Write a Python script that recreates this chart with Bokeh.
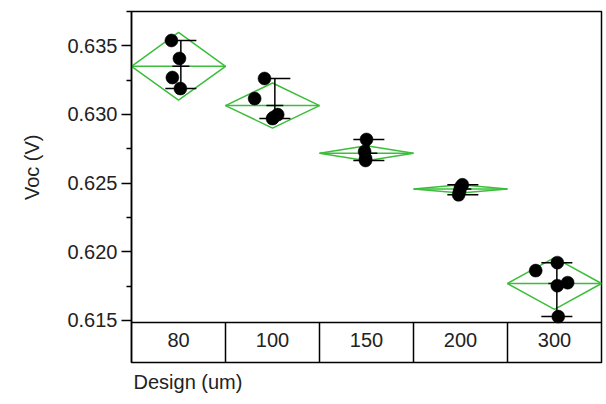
from bokeh.plotting import figure
from bokeh.models import Range1d, FixedTicker, NumeralTickFormatter, Title, Span
from bokeh.core.properties import value
from bokeh.embed import file_html
from bokeh.resources import INLINE

# ---- data ----
categories = ["80", "100", "150", "200", "300"]

voc_80 = [0.63539, 0.63408, 0.63269, 0.63189]
voc_100 = [0.63262, 0.63116, 0.62970, 0.62978, 0.62999]
voc_150 = [0.62818, 0.62730, 0.62680, 0.62665]
voc_200 = [0.62488, 0.62470, 0.62440, 0.62415]
voc_300 = [0.61863, 0.61921, 0.61775, 0.61753, 0.61528]

# horizontal jitter of the points, in category units
jit_80 = [-0.075, 0.01, -0.065, 0.02]
jit_100 = [-0.085, -0.19, 0.0, 0.01, 0.055]
jit_150 = [0.0, -0.02, -0.01, -0.01]
jit_200 = [0.02, 0.0, -0.01, -0.02]
jit_300 = [-0.20, 0.03, 0.14, 0.03, 0.04]

group_means = [0.63351, 0.63065, 0.62718, 0.62458, 0.61769]
ci_half = [0.00247, 0.00164, 0.00055, 0.00030, 0.00189]
err_lo = [0.63189, 0.62970, 0.62665, 0.62415, 0.61528]
err_hi = [0.63539, 0.63262, 0.62818, 0.62488, 0.61921]

y_major = [0.615, 0.620, 0.625, 0.630, 0.635]
y_minor = [0.6175, 0.6225, 0.6275, 0.6325, 0.6375]

# ---- layout / styles ----
FONT = "Liberation Sans"
FS = "20px"
TXT = "#222222"
GREEN = "#3cbe3c"

Y_TOP = 0.6375
Y_PLOT_BOTTOM = 0.61485
PLOT_PX = 311.0
STRIP_PX = 40.0
Y_STRIP_BOTTOM = Y_PLOT_BOTTOM - (Y_TOP - Y_PLOT_BOTTOM) * STRIP_PX / PLOT_PX

voc_all = [voc_80, voc_100, voc_150, voc_200, voc_300]
jit_all = [jit_80, jit_100, jit_150, jit_200, jit_300]
n = len(categories)
idx = list(range(n))

p = figure(width=606, height=404, x_range=Range1d(0, n),
           y_range=Range1d(Y_STRIP_BOTTOM, Y_TOP), output_backend="svg",
           toolbar_location=None, x_axis_location=None,
           min_border_left=131, min_border_right=5, min_border_top=11,
           min_border_bottom=42)
p.grid.visible = False
p.outline_line_color = "black"
p.outline_line_width = 1.5
p.background_fill_color = "white"
p.border_fill_color = "white"

ax = p.yaxis[0]
ax.ticker = FixedTicker(ticks=y_major, minor_ticks=y_minor)
ax.formatter = NumeralTickFormatter(format="0.000")
ax.major_tick_out = 10
ax.major_tick_in = 0
ax.minor_tick_out = 5
ax.minor_tick_in = 0
ax.axis_line_color = "black"
ax.axis_line_width = 1.5
ax.major_tick_line_width = 1.5
ax.minor_tick_line_width = 1.5
ax.major_label_text_font = FONT
ax.major_label_text_font_size = FS
ax.major_label_text_color = TXT
ax.major_label_standoff = 4

# y axis title, placed over the plot region (not the category strip)
p.add_layout(Title(text="Voc (V)", align="right", vertical_align="top",
                   offset=123, standoff=40,
                   text_font=FONT, text_font_size=FS, text_font_style="normal",
                   text_color=TXT), "left")

# diamonds
xs, ys = [], []
for i, (m, h) in enumerate(zip(group_means, ci_half)):
    xs.append([i, i + 0.5, i + 1, i + 0.5])
    ys.append([m, m + h, m, m - h])
p.patches(xs, ys, fill_color=None, line_color=GREEN, line_width=1.5)
p.segment(x0=idx, x1=[i + 1 for i in idx], y0=group_means, y1=group_means,
          line_color=GREEN, line_width=1.5)

# error bars
ex = [i + 0.5 + 0.025 for i in idx]
p.segment(x0=ex, x1=ex, y0=err_lo, y1=err_hi, line_color="black", line_width=1.5)
p.segment(x0=[x - 0.165 for x in ex], x1=[x + 0.165 for x in ex], y0=err_lo, y1=err_lo,
          line_color="black", line_width=1.5)
p.segment(x0=[x - 0.165 for x in ex], x1=[x + 0.165 for x in ex], y0=err_hi, y1=err_hi,
          line_color="black", line_width=1.5)
p.segment(x0=[x - 0.09 for x in ex], x1=[x + 0.09 for x in ex], y0=group_means, y1=group_means,
          line_color="black", line_width=1.5)

# points
px, py = [], []
for i, (vals, jit) in enumerate(zip(voc_all, jit_all)):
    for v, j in zip(vals, jit):
        px.append(i + 0.5 + j)
        py.append(v)
p.scatter(px, py, size=13, fill_color="black", line_color="black", line_width=0.5)

# category strip under the plot region
p.add_layout(Span(location=Y_PLOT_BOTTOM, dimension="width", line_color="black", line_width=1.5))
p.segment(x0=idx[1:], x1=idx[1:], y0=Y_STRIP_BOTTOM, y1=Y_PLOT_BOTTOM,
          line_color="black", line_width=1.5)
p.text(x=[i + 0.5 for i in idx], y=[(Y_STRIP_BOTTOM + Y_PLOT_BOTTOM) / 2] * n, text=categories,
       text_align="center", text_baseline="middle", y_offset=-3,
       text_font=value(FONT), text_font_size=FS, text_color=TXT)

p.add_layout(Title(text="Design (um)", align="left", text_font=FONT,
                   text_font_size=FS, text_font_style="normal",
                   text_color=TXT, offset=2, standoff=12), "below")

open("out.html", "w").write(file_html(p, INLINE))
